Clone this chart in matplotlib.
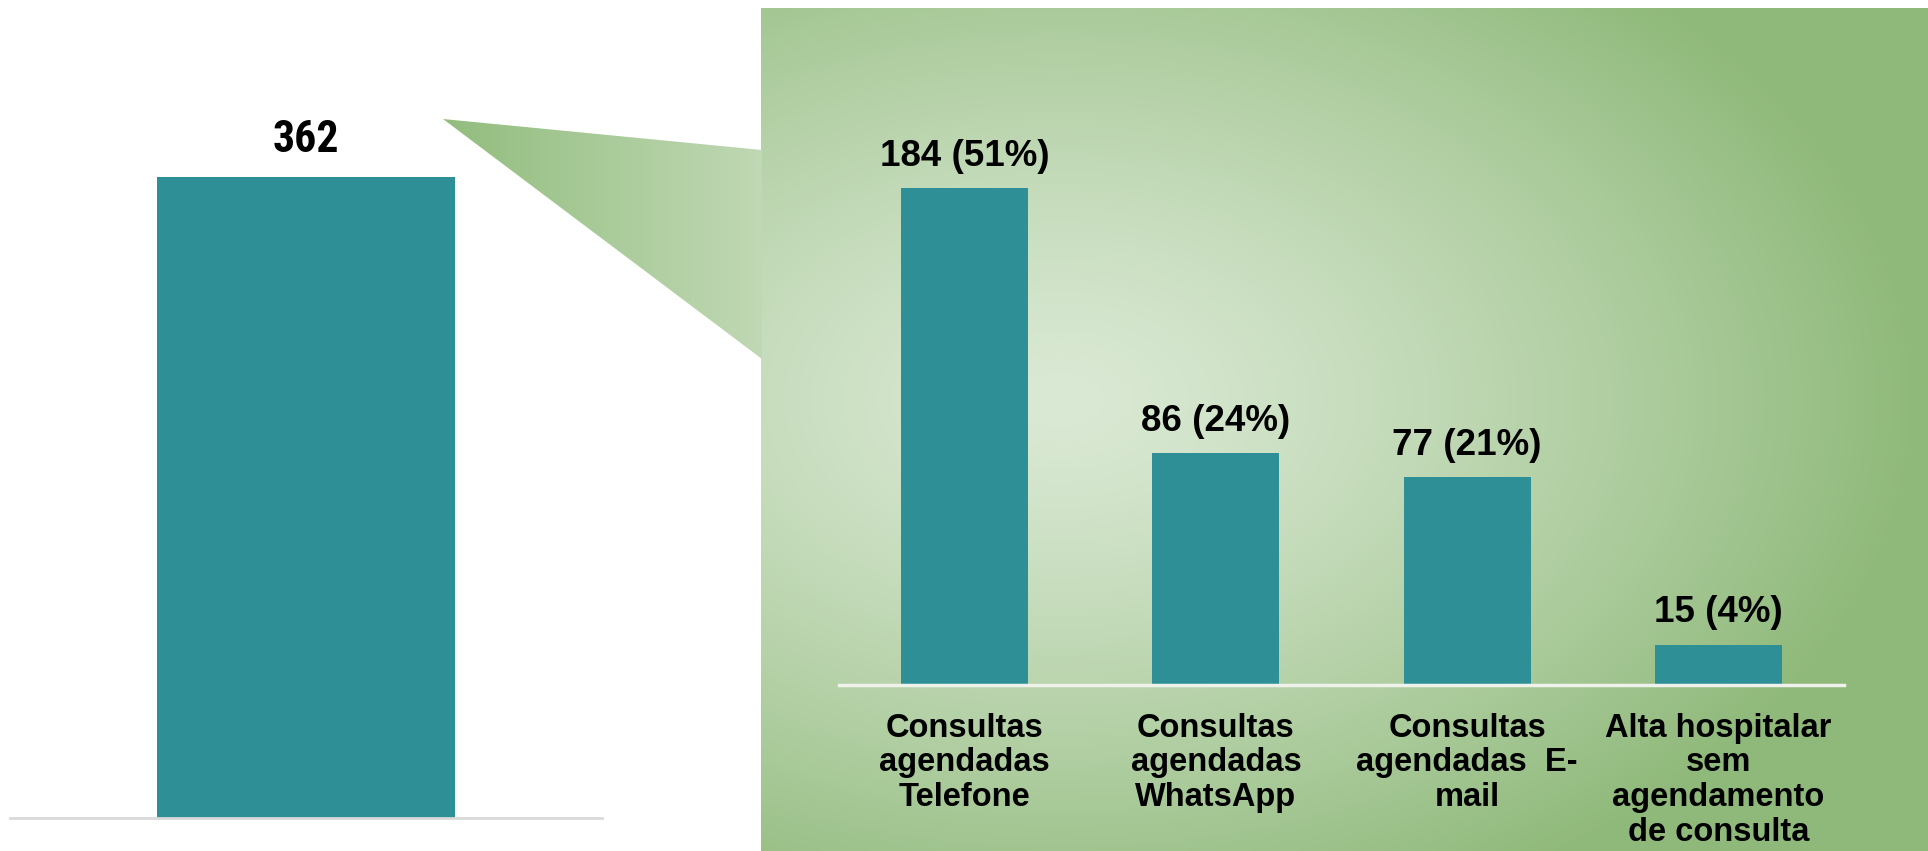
import numpy as np
import matplotlib
matplotlib.use("Agg")
import matplotlib.pyplot as plt
from matplotlib import font_manager as fm
from matplotlib.ft2font import FT2Font
from matplotlib.textpath import TextPath
from matplotlib.patches import Polygon

# ---- data ----
total_label = "Ações de busca ativa pós-alta"
total_value = [362]

categories = [
    "Consultas\nagendadas\nTelefone",
    "Consultas\nagendadas\nWhatsApp",
    "Consultas\nagendadas  E-\nmail",
    "Alta hospitalar\nsem\nagendamento\nde consulta",
]
values = [184, 86, 77, 15]
percents = [51, 24, 21, 4]

BAR = "#2e8f96"
SANS = ["Liberation Sans", "Arial", "DejaVu Sans"]
W, H, DPI = 1928, 851, 100
PX_PER_PT = DPI / 72.0


def _extent(text, prop):
    return TextPath((0, 0), text, size=100, prop=prop).get_extents()


def _upright(fname):
    try:
        style = FT2Font(fname).style_name.lower()
    except Exception:
        return False
    return not any(k in style for k in ("italic", "oblique", "slant"))


def pick_narrow_bold(sample, ratio):
    """Upright bold sans face whose width/cap-height for `sample` is closest to `ratio`."""
    best, best_err = None, None
    seen = set()
    for f in fm.fontManager.ttflist:
        low = f.fname.lower()
        if f.fname in seen or f.style != "normal" or "cjk" in low:
            continue
        if any(k in low for k in ("italic", "oblique", "slant")):
            continue
        if not (f.weight in ("bold", 700) or "bold" in low):
            continue
        if any(k in low for k in ("semibold", "extrabold", "mono")) or "serif" in f.name.lower():
            continue
        seen.add(f.fname)
        if not _upright(f.fname):
            continue
        try:
            prop = fm.FontProperties(fname=f.fname)
            r = _extent(sample, prop).width / _extent("H", prop).height
        except Exception:
            continue
        err = abs(r - ratio)
        if best is None or err < best_err:
            best, best_err = prop, err
    return best or fm.FontProperties(family="DejaVu Sans", weight="bold")


def sized(font, text, width_px, cap_px):
    """Copy of `font` sized to a target width and cap height in pixels."""
    w = _extent(text, font).width * PX_PER_PT / 100
    c = _extent("H", font).height * PX_PER_PT / 100
    p = font.copy()
    p.set_size(np.sqrt((width_px / w) * (cap_px / c)))
    return p


NARROW = pick_narrow_bold("Consultas", 5.5)

fig = plt.figure(figsize=(W / DPI, H / DPI), dpi=DPI)
fig.patch.set_facecolor("white")

# background layer in pixel coordinates
bg = fig.add_axes([0, 0, 1, 1])
bg.axis("off")

# green panel with a soft radial gradient
px0, py0 = 761, 8
xs = np.linspace(px0, W, 400)
ys = np.linspace(py0, H, 200)
X, Y = np.meshgrid(xs, ys)
r = np.sqrt(((X - 1060) / 860) ** 2 + ((Y - 400) / 560) ** 2)
t = np.clip(r, 0, 1) ** 1.3
c0 = np.array([218, 233, 212]) / 255
c1 = np.array([143, 185, 122]) / 255
img = c0[None, None, :] + (c1 - c0)[None, None, :] * t[..., None]
bg.imshow(img, extent=[px0, W, H, py0], aspect="auto", zorder=1)

# callout wedge joining the total bar to the breakdown panel
tip = (443, 119)
wedge = Polygon([tip, (px0 + 1, 150), (px0 + 1, 359)], closed=True,
                facecolor="none", edgecolor="none")
bg.add_patch(wedge)
gx = np.linspace(0, 1, 200)
g0 = np.array([146, 189, 126]) / 255
g1 = np.array([192, 216, 180]) / 255
grad = g0[None, None, :] + (g1 - g0)[None, None, :] * gx[None, :, None]
grad = np.repeat(grad, 2, axis=0)
wim = bg.imshow(grad, extent=[tip[0], px0 + 1, 359, 119], aspect="auto", zorder=1)
wim.set_clip_path(wedge)
bg.set_xlim(0, W)
bg.set_ylim(H, 0)

# ---- left: total ----
axl = fig.add_axes([10 / W, 1 - 818 / H, 592 / W, 810 / H])
axl.patch.set_alpha(0)
axl.bar([0], total_value, width=1.01, color=BAR, zorder=2)
axl.set_xlim(-1, 1)
axl.set_ylim(0, 810 / 1.77)
for s in ["top", "right", "left"]:
    axl.spines[s].set_visible(False)
axl.spines["bottom"].set_color("#d9d9d9")
axl.spines["bottom"].set_linewidth(2)
axl.set_yticks([])
axl.set_xticks([])
axl.annotate(f"{total_value[0]}", (0, total_value[0]), xytext=(0, 18.5),
             textcoords="offset points", ha="center", va="baseline",
             fontproperties=sized(NARROW, "362", 60, 33))
# caption under the total bar, running off the bottom edge
fig.text(36 / W, 1 - 876 / H, total_label, ha="left", va="baseline",
         fontsize=24, fontweight="bold", family=SANS)

# ---- right: breakdown ----
axr = fig.add_axes([839 / W, 1 - 685 / H, 1005 / W, 677 / H])
axr.patch.set_alpha(0)
x = np.arange(len(categories))
axr.bar(x, values, width=0.505, color=BAR, zorder=2)
axr.set_xlim(-0.5, len(categories) - 0.5)
axr.set_ylim(0, 677 / 2.70)
for s in ["top", "right", "left"]:
    axr.spines[s].set_visible(False)
axr.spines["bottom"].set_color("#eef2ea")
axr.spines["bottom"].set_linewidth(2.5)
axr.set_yticks([])
axr.set_xticks(x)
axr.set_xticklabels(categories, fontsize=23.5, fontweight="bold", family=SANS,
                    linespacing=1.15)
axr.tick_params(axis="x", length=0, pad=20)
for xi, v, p in zip(x, values, percents):
    axr.annotate(f"{v} ({p}%)", (xi, v), xytext=(0, 16),
                 textcoords="offset points", ha="center", va="baseline",
                 fontsize=26.5, fontweight="bold", family=SANS)

fig.savefig("out.png", dpi=DPI, facecolor=fig.get_facecolor())
